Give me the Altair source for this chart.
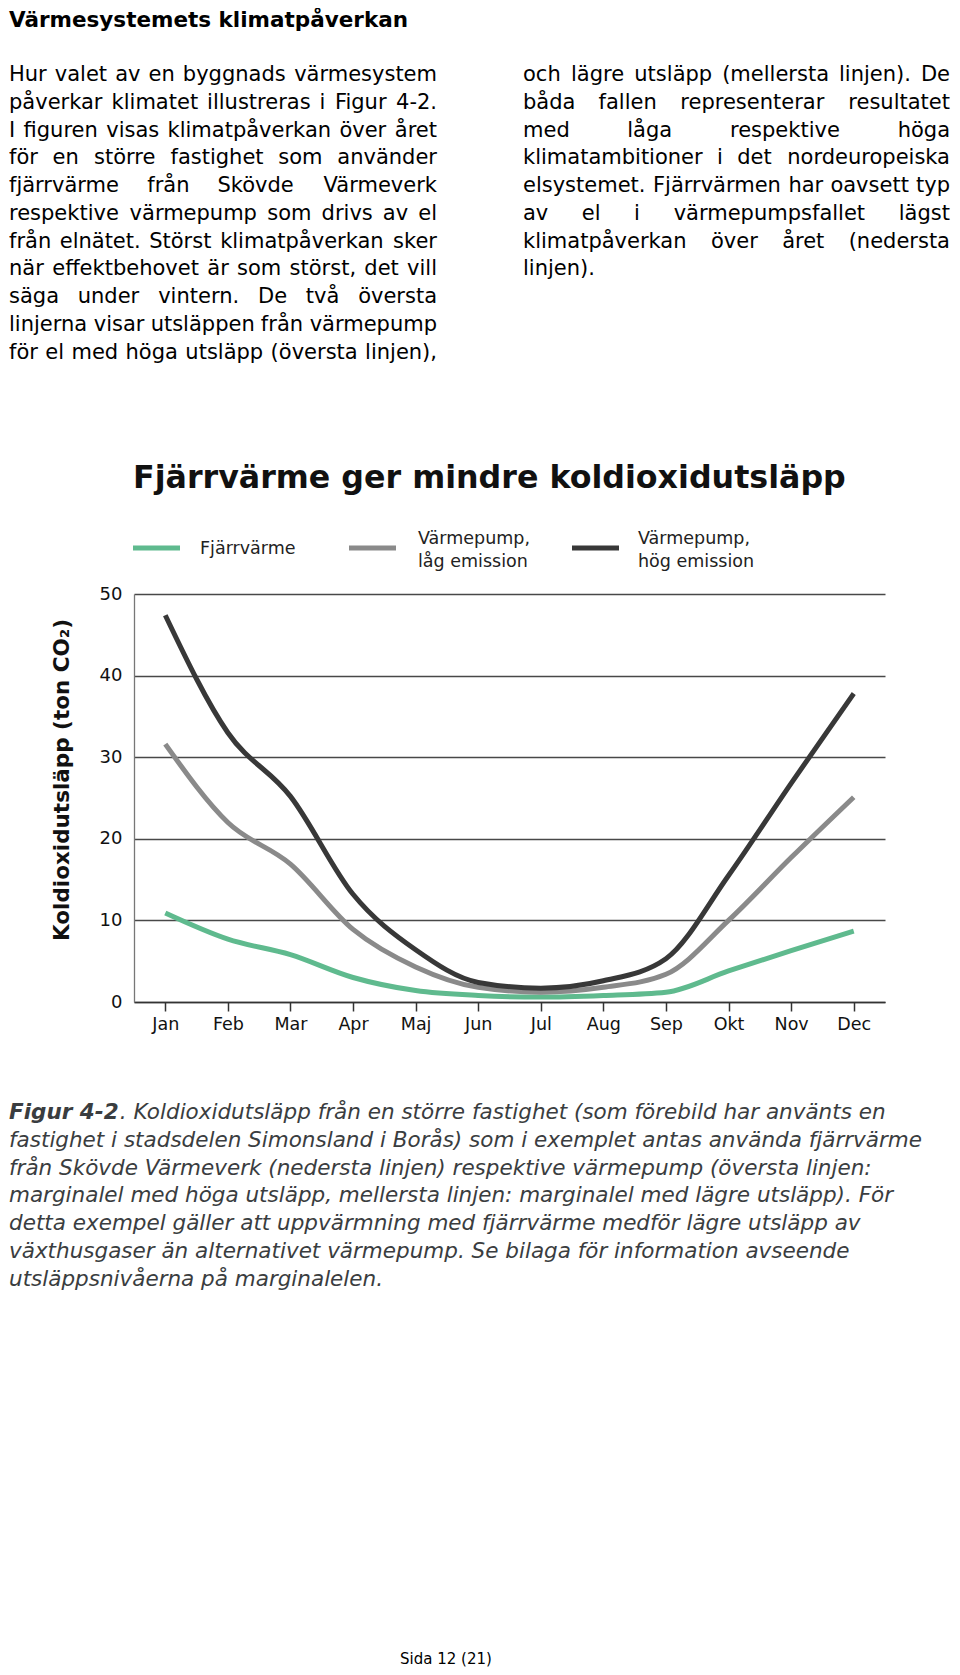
import altair as alt
import pandas as pd

# ---------------- data ----------------
months = ["Jan", "Feb", "Mar", "Apr", "Maj", "Jun", "Jul", "Aug", "Sep", "Okt", "Nov", "Dec"]
fjarrvarme = [10.9, 7.7, 5.8, 3.0, 1.4, 0.8, 0.6, 0.8, 1.2, 3.8, 6.3, 8.7]
vp_lag = [31.6, 22.0, 16.9, 8.9, 4.3, 1.8, 1.2, 1.8, 3.4, 10.0, 17.7, 25.1]
vp_hog = [47.4, 33.0, 25.2, 13.2, 6.4, 2.4, 1.7, 2.6, 5.3, 15.5, 26.8, 37.8]
series_names = ["Fjärrvärme", "Värmepump, låg emission", "Värmepump, hög emission"]
legend_labels = [["Fjärrvärme"], ["Värmepump,", "låg emission"], ["Värmepump,", "hög emission"]]
series_colors = ["#5fba8e", "#8a8a8a", "#383838"]
y_ticks = [0, 10, 20, 30, 40, 50]

heading = "Värmesystemets klimatpåverkan"
left_lines = [
    "Hur valet av en byggnads värmesystem",
    "påverkar klimatet illustreras i Figur 4-2.",
    "I figuren visas klimatpåverkan över året",
    "för en större fastighet som använder",
    "fjärrvärme från Skövde Värmeverk",
    "respektive värmepump som drivs av el",
    "från elnätet. Störst klimatpåverkan sker",
    "när effektbehovet är som störst, det vill",
    "säga under vintern.  De två översta",
    "linjerna visar utsläppen från värmepump",
    "för el med höga utsläpp (översta linjen),",
]
right_lines = [
    "och lägre utsläpp (mellersta linjen). De",
    "båda fallen representerar resultatet",
    "med låga respektive höga",
    "klimatambitioner i det nordeuropeiska",
    "elsystemet. Fjärrvärmen har oavsett typ",
    "av el i värmepumpsfallet lägst",
    "klimatpåverkan över året (nedersta",
    "linjen).",
]
chart_title = "Fjärrvärme ger mindre koldioxidutsläpp"
y_title = "Koldioxidutsläpp (ton CO₂)"
caption_bold = "Figur 4-2"
caption_lines = [
    ". Koldioxidutsläpp från en större fastighet (som förebild har använts en",
    "fastighet i stadsdelen Simonsland i Borås) som i exemplet antas använda fjärrvärme",
    "från Skövde Värmeverk (nedersta linjen) respektive värmepump (översta linjen:",
    "marginalel med höga utsläpp, mellersta linjen: marginalel med lägre utsläpp). För",
    "detta exempel gäller att uppvärmning med fjärrvärme medför lägre utsläpp av",
    "växthusgaser än alternativet värmepump. Se bilaga för information avseende",
    "utsläppsnivåerna på marginalelen.",
]
footer = "Sida 12 (21)"

# ---------------- layout helpers ----------------
FONT = "DejaVu Sans"
OX, OY = 134, 594          # page position of plot origin
PW, PH = 751, 408          # plot area
LX = 9                     # left text edge on the page

def px(x):
    return x - OX

def py(y):
    return y - OY

W = {" ": .318, "!": .401, "(": .390, ")": .390, ",": .318, "-": .361, ".": .318, ":": .337,
     "A": .684, "B": .686, "C": .698, "D": .770, "E": .632, "F": .575, "G": .775, "H": .752,
     "I": .295, "J": .295, "K": .656, "L": .557, "M": .863, "N": .748, "O": .787, "P": .603,
     "Q": .787, "R": .695, "S": .635, "T": .611, "U": .732, "V": .684, "W": .989, "X": .685,
     "Y": .611, "Z": .685, "a": .613, "b": .635, "c": .550, "d": .635, "e": .615, "f": .352,
     "g": .635, "h": .634, "i": .278, "j": .278, "k": .579, "l": .278, "m": .974, "n": .634,
     "o": .612, "p": .635, "q": .635, "r": .411, "s": .521, "t": .392, "u": .634, "v": .592,
     "w": .818, "x": .592, "y": .592, "z": .525, "å": .613, "ä": .613, "ö": .612, "Ö": .787,
     "Ä": .684, "Å": .684}

def text_width(s, size, factor=1.0):
    return sum(W.get(c, .636) for c in s) * size * factor

rows = []  # text placements: text, x, y, style key, align

def add(text, x, y, style, align="left"):
    rows.append({"text": text, "x": px(x), "y": py(y), "style": style, "align": align})

def add_justified(line, x0, x1, y, size, style):
    words = line.split()
    if len(words) < 2:
        add(line, x0, y, style)
        return
    widths = [text_width(w, size) for w in words]
    gap = (x1 - x0 - sum(widths)) / (len(words) - 1)
    pos = x0
    for i, (w, wd) in enumerate(zip(words, widths)):
        if i == 0:
            add(w, x0, y, style, "left")
        elif i == len(words) - 1:
            add(w, x1, y, style, "right")
        else:
            add(w, pos + wd / 2, y, style, "center")
        pos += wd + gap

BODY = 21
LINE = 27.77
add(heading, LX, 27, "heading")
for k, line in enumerate(left_lines):
    add_justified(line, LX, 437, 81 + LINE * k, BODY, "body")
for k, line in enumerate(right_lines):
    if k < len(right_lines) - 1:
        add_justified(line, 523, 950, 81 + LINE * k, BODY, "body")
    else:
        add(line, 523, 81 + LINE * k, "body")

CAP = 21.5
add(caption_bold, LX, 1119, "capbold")
cb_w = text_width(caption_bold, CAP, 1.15)
for k, line in enumerate(caption_lines):
    add(line, LX + (cb_w if k == 0 else 0), 1119 + LINE * k, "caption")

add(chart_title, 133, 488, "title")
leg_text_x = [200, 418, 638]
for i, labs in enumerate(legend_labels):
    if len(labs) == 1:
        add(labs[0], leg_text_x[i], 549, "legend")
    else:
        add(labs[0], leg_text_x[i], 539, "legend")
        add(labs[1], leg_text_x[i], 562, "legend")
add(footer, 446, 1664, "footer", "center")

tdf = pd.DataFrame(rows)

STYLES = {
    "heading": dict(font=FONT, fontSize=21.5, fontWeight="bold", color="#000000"),
    "body": dict(font=FONT, fontSize=BODY, color="#000000"),
    "capbold": dict(font=FONT, fontSize=CAP, fontWeight="bold", fontStyle="italic", color="#3a3d40"),
    "caption": dict(font=FONT, fontSize=CAP, fontStyle="italic", color="#3a3d40"),
    "title": dict(font=FONT, fontSize=31.7, fontWeight="bold", color="#111111"),
    "legend": dict(font=FONT, fontSize=17.5, color="#222222", baseline="middle"),
    "footer": dict(font=FONT, fontSize=15, color="#000000"),
}

layers = []

# ---------------- main lines ----------------
long = pd.DataFrame({
    "month": months * 3,
    "value": fjarrvarme + vp_lag + vp_hog,
    "series": [series_names[0]] * 12 + [series_names[1]] * 12 + [series_names[2]] * 12,
    "order": [0] * 12 + [1] * 12 + [2] * 12,
})
color_scale = alt.Scale(domain=series_names, range=series_colors)

lines = alt.Chart(long).mark_line(strokeWidth=5, interpolate="monotone").encode(
    x=alt.X("month:N", sort=months, scale=alt.Scale(type="point", padding=0.5),
            axis=alt.Axis(title=None, labelAngle=0, grid=False, ticks=True, tickSize=9,
                          tickColor="#333333", tickWidth=1.5, domainColor="#333333",
                          domainWidth=1.5, labelFont=FONT, labelFontSize=17.5,
                          labelColor="#111111", labelPadding=4)),
    y=alt.Y("value:Q", scale=alt.Scale(domain=[0, 50], nice=False, zero=True),
            axis=alt.Axis(title=None, values=y_ticks, grid=True, gridColor="#484848",
                          gridWidth=1.3, ticks=False, domainColor="#777777", domainWidth=1.3,
                          labelFont=FONT, labelFontSize=18, labelColor="#111111",
                          labelPadding=12)),
    color=alt.Color("series:N", scale=color_scale, legend=None),
    detail="order:O",
)
layers.append(lines)

# ---------------- legend swatches ----------------
leg = pd.DataFrame({
    "series": series_names,
    "x0": [px(133), px(349), px(572)],
    "x1": [px(180), px(396), px(619)],
    "y": [py(548)] * 3,
})
swatches = alt.Chart(leg).mark_rule(strokeWidth=5).encode(
    x=alt.X("x0:Q", scale=None, axis=None),
    x2="x1:Q",
    y=alt.Y("y:Q", scale=None, axis=None),
    color=alt.Color("series:N", scale=color_scale, legend=None),
)
layers.append(swatches)

# ---------------- y axis title ----------------
ytitle = alt.Chart(pd.DataFrame({"t": [y_title]})).mark_text(
    font=FONT, fontSize=21.5, fontWeight="bold", angle=270, align="center",
    baseline="middle", color="#111111").encode(
    text="t:N", x=alt.value(px(63)), y=alt.value(py(780)))
layers.append(ytitle)

# ---------------- text layers ----------------
for style, props in STYLES.items():
    for align in ["left", "center", "right"]:
        sub = tdf[(tdf["style"] == style) & (tdf["align"] == align)]
        if len(sub) == 0:
            continue
        p = dict(props)
        p.setdefault("baseline", "alphabetic")
        layers.append(
            alt.Chart(sub).mark_text(align=align, **p).encode(
                x=alt.X("x:Q", scale=None, axis=None),
                y=alt.Y("y:Q", scale=None, axis=None),
                text="text:N",
            )
        )

TOTAL_W, TOTAL_H = 944, 1659
chart = alt.layer(*layers).resolve_scale(x="independent", y="independent").properties(
    width=PW, height=PH,
    autosize=alt.AutoSizeParams(type="none"),
    padding={"left": OX - 8, "top": OY - 8,
             "right": TOTAL_W - (OX - 8) - PW, "bottom": TOTAL_H - (OY - 8) - PH},
    background="white",
).configure_view(stroke=None)

chart.save("out.html", embed_options={"renderer": "svg", "actions": False})
